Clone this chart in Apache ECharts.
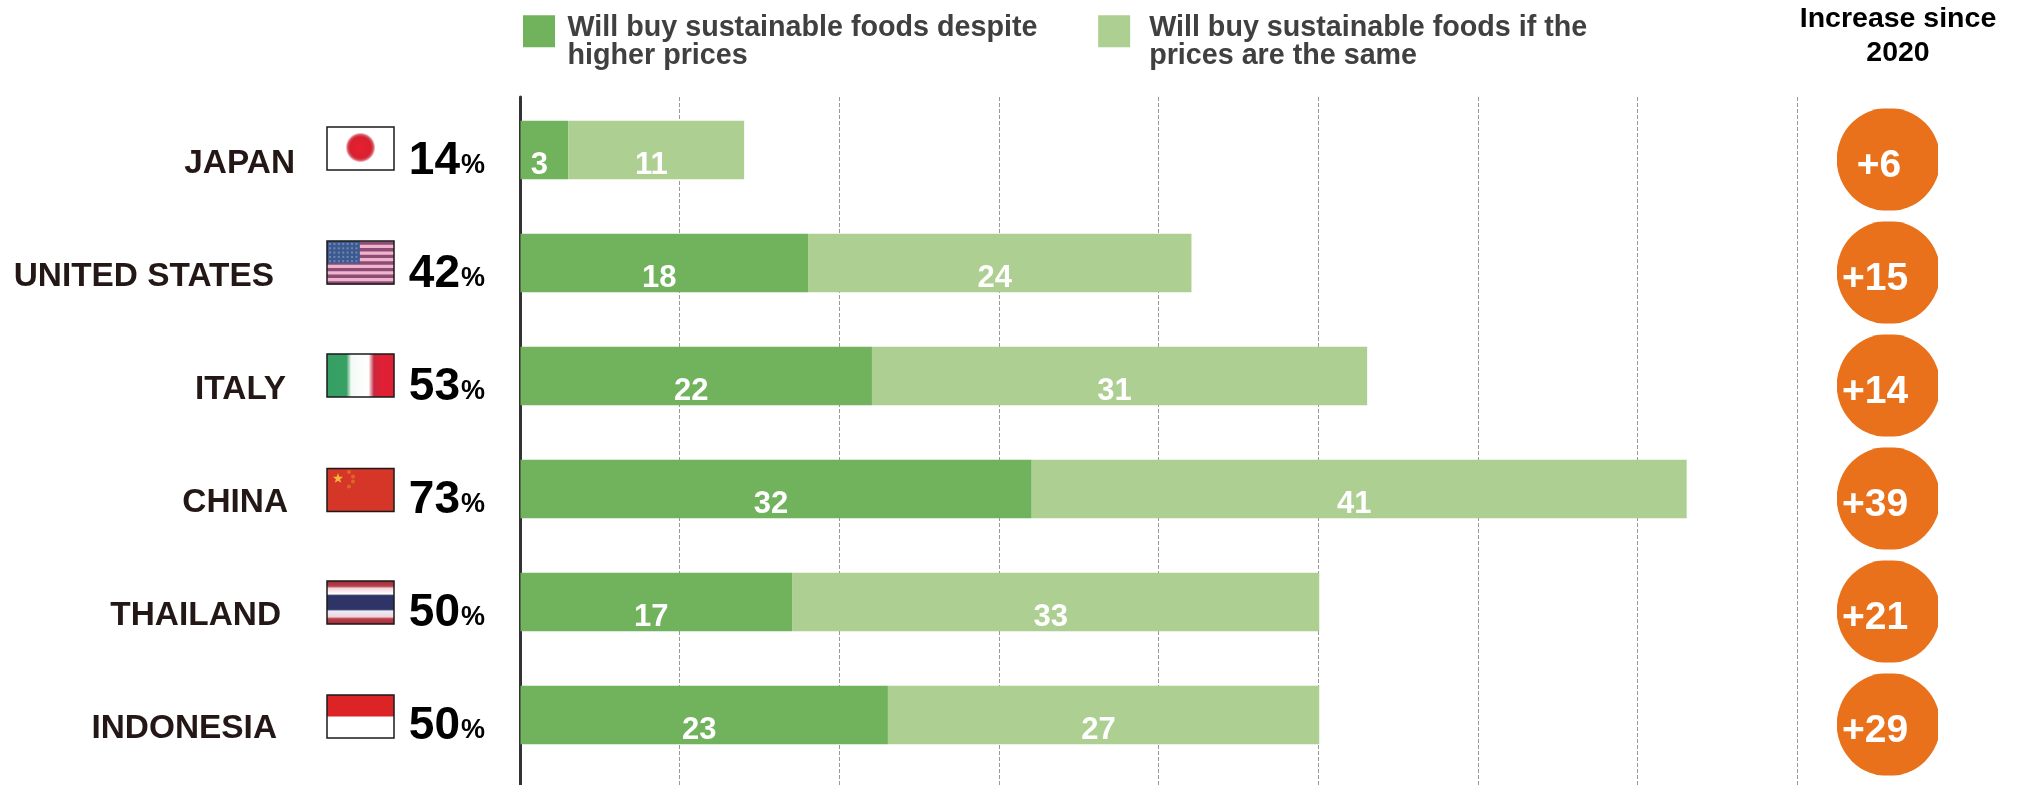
<!DOCTYPE html>
<html>
<head>
<meta charset="utf-8">
<title>Sustainable food purchase intent</title>
<style>html,body{margin:0;padding:0;background:#fff}#chart{width:2017px;height:785px}</style>
<script src="https://cdn.jsdelivr.net/npm/echarts@6/dist/echarts.min.js"></script>
</head>
<body>
<div id="chart"></div>
<script>
// Survey values, percent of respondents
const countries = ['JAPAN', 'UNITED STATES', 'ITALY', 'CHINA', 'THAILAND', 'INDONESIA'];
const despiteHigherPrices = [3, 18, 22, 32, 17, 23];
const ifPricesSame = [11, 24, 31, 41, 33, 27];
const totals = [14, 42, 53, 73, 50, 50];
const increaseSince2020 = [6, 15, 14, 39, 21, 29];
const legendNames = [
  'Will buy sustainable foods despite\nhigher prices',
  'Will buy sustainable foods if the\nprices are the same'
];
const increaseTitle = 'Increase since\n2020';

// Row layout helpers for the left-hand labels (pixels)
const nameRightEdge = [295, 274, 286, 288, 281, 277];
const flagShift = [-1.5, -0.5, -0.5, 1, 0.5, 1.5];

const FONT = '"Liberation Sans", Arial, sans-serif';
const DARK = '#71B25C';
const LIGHT = '#ADCF91';
const ORANGE = '#E9711C';
const FLAG_X = 327, FLAG_W = 67, FLAG_H = 43;

const band = (x, y, w, h, fill) => ({ type: 'rect', shape: { x, y, width: w, height: h }, style: { fill } });
const stops = list => list.map(s => ({ offset: s[0], color: s[1] }));
const across = list => ({ type: 'linear', x: 0, y: 0, x2: 1, y2: 0, colorStops: stops(list) });
const down = list => ({ type: 'linear', x: 0, y: 0, x2: 0, y2: 1, colorStops: stops(list) });

// Small low-resolution style flags, each painted into a box at (x, y)
const flagPainters = {
  JAPAN(x, y, w, h) {
    return [
      band(x, y, w, h, '#FFFFFF'),
      {
        type: 'circle',
        shape: { cx: x + w / 2, cy: y + h / 2 - 1, r: 15 },
        style: {
          fill: {
            type: 'radial', x: 0.5, y: 0.5, r: 0.5,
            colorStops: stops([[0, '#E8202F'], [0.72, '#D8202F'], [0.86, '#D85A66'], [1, '#FFFFFF']])
          }
        }
      }
    ];
  },
  'UNITED STATES'(x, y, w, h) {
    const parts = [band(x, y, w, h, '#EFB4CE')];
    for (let i = 0; i < 7; i++) {
      parts.push(band(x, y + i * h * 2 / 13 + 0.5, w, h / 13, '#8E4C74'));
    }
    parts.push(band(x, y, w * 0.49, h * 0.52, '#3C5A8E'));
    for (let r = 0; r < 5; r++) {
      for (let c = 0; c < 7; c++) {
        parts.push(band(x + 2 + c * 4.4, y + 2 + r * 4.3, 2, 2, '#6F86B5'));
      }
    }
    return parts;
  },
  ITALY(x, y, w, h) {
    return [
      band(x, y, w, h, across([
        [0, '#35A065'], [0.29, '#38A063'], [0.36, '#F4FAF6'], [0.62, '#FFFFFF'],
        [0.7, '#C6283F'], [0.8, '#DF2035'], [1, '#E02034']
      ]))
    ];
  },
  CHINA(x, y, w, h) {
    const parts = [band(x, y, w, h, '#D53628')];
    parts.push({
      type: 'polygon',
      shape: { points: [0, 1, 2, 3, 4, 5, 6, 7, 8, 9].map(i => {
        const r = i % 2 ? 2.2 : 5.4, a = -Math.PI / 2 + i * Math.PI / 5;
        return [x + 11 + r * Math.cos(a), y + 10 + r * Math.sin(a)];
      }) },
      style: { fill: '#F2B83A' }
    });
    [[22, 3.5], [26, 8], [26, 13], [22, 18]].forEach(p => {
      parts.push({ type: 'circle', shape: { cx: x + p[0], cy: y + p[1], r: 2 }, style: { fill: '#E0652A' } });
    });
    return parts;
  },
  THAILAND(x, y, w, h) {
    return [
      band(x, y, w, h, down([
        [0, '#A32C38'], [0.12, '#B5404C'], [0.17, '#F3D5DC'], [0.3, '#FFFFFF'],
        [0.34, '#2F3467'], [0.66, '#2F3467'], [0.7, '#E8EEF7'], [0.83, '#F3D5DC'],
        [0.88, '#B5404C'], [1, '#A32C38']
      ]))
    ];
  },
  INDONESIA(x, y, w, h) {
    return [band(x, y, w, h, '#FFFFFF'), band(x, y, w, h / 2, '#DC2326')];
  }
};

// Country name, flag and big total on each row
function renderRowLabel(params, api) {
  const i = params.dataIndex;
  const name = countries[i];
  const cy = api.coord([0, name])[1];
  const top = cy - FLAG_H / 2 + flagShift[i];
  return {
    type: 'group',
    children: [
      {
        type: 'text',
        style: {
          x: nameRightEdge[i], y: cy + 13.5, text: name, fill: '#231815',
          font: 'bold 33.4px ' + FONT, align: 'right', verticalAlign: 'middle'
        }
      },
      ...flagPainters[name](FLAG_X, top, FLAG_W, FLAG_H),
      {
        type: 'rect',
        shape: { x: FLAG_X, y: top, width: FLAG_W, height: FLAG_H },
        style: { fill: 'none', stroke: '#1a1a1a', lineWidth: 1.5 }
      },
      {
        type: 'text',
        style: {
          x: 460, y: cy + 11.5, text: String(api.value(0)), fill: '#000',
          font: 'bold 46px ' + FONT, align: 'right', verticalAlign: 'middle'
        }
      },
      {
        type: 'text',
        style: {
          x: 485, y: cy + 15.5, text: '%', fill: '#000',
          font: 'bold 27px ' + FONT, align: 'right', verticalAlign: 'middle'
        }
      }
    ]
  };
}

// Orange badge with the change since 2020; the disc is trimmed by its square box
function renderIncrease(params, api) {
  const cy = api.coord([0, api.value(1)])[1] + 9.5;
  const cx = 1888.5;
  const v = api.value(0);
  return {
    type: 'group',
    children: [
      {
        type: 'circle',
        shape: { cx, cy, r: 51.8 },
        style: { fill: ORANGE },
        clipPath: { type: 'rect', shape: { x: 1837, y: cy - 51, width: 101, height: 102 } }
      },
      {
        type: 'text',
        style: {
          x: v < 10 ? 1879 : 1875, y: cy + 7, text: '+' + v, fill: '#fff',
          font: 'bold 39px ' + FONT, align: 'center', verticalAlign: 'middle'
        }
      }
    ]
  };
}

const valueLabel = {
  show: true,
  position: 'inside',
  offset: [-5, 15],
  color: '#fff',
  fontFamily: FONT,
  fontWeight: 'bold',
  fontSize: 31
};

const legendLine = {
  color: '#404040',
  fontFamily: FONT,
  fontWeight: 'bold',
  fontSize: 28.7,
  lineHeight: 28,
  height: 28,
  padding: [0, 0, 0, 7.5]
};

const chart = echarts.init(document.getElementById('chart'), null, { renderer: 'canvas' });
chart.setOption({
  animation: false,
  backgroundColor: '#fff',
  textStyle: { fontFamily: FONT },
  legend: {
    left: 523,
    top: -8,
    padding: 0,
    itemWidth: 32,
    itemHeight: 32,
    itemGap: 60.7,
    icon: 'rect',
    selectedMode: false,
    data: legendNames,
    // A spacer line drops the two text lines below the swatch centre
    formatter: name => {
      const tag = name === legendNames[0] ? 't' : 'u';
      return '{s| }\n' + name.split('\n').map(l => '{' + tag + '|' + l + '}').join('\n');
    },
    textStyle: {
      color: '#404040',
      rich: {
        s: { height: 22.5, lineHeight: 22.5, fontSize: 10 },
        t: legendLine,
        u: Object.assign({}, legendLine, { padding: [0, 0, 0, 14] })
      }
    }
  },
  title: {
    text: increaseTitle,
    left: 1898,
    top: 2.5,
    textAlign: 'center',
    padding: 0,
    textStyle: { color: '#000', fontFamily: FONT, fontWeight: 'bold', fontSize: 28.5, lineHeight: 34 }
  },
  grid: [
    // Reference lines run the full chart height
    { left: 520, width: 1277, top: 97, height: 688 },
    // Bars sit in their own evenly spaced rows
    { left: 520.5, width: 1278, top: 93.5, height: 678 }
  ],
  xAxis: [
    {
      gridIndex: 0, type: 'value', min: 0, max: 80, interval: 10,
      axisLine: { show: false }, axisTick: { show: false }, axisLabel: { show: false },
      splitLine: { show: true, showMinLine: false, lineStyle: { color: '#999', width: 1, type: [4, 2] } }
    },
    {
      gridIndex: 1, type: 'value', min: 0, max: 80, interval: 10,
      axisLine: { show: false }, axisTick: { show: false }, axisLabel: { show: false }, splitLine: { show: false }
    }
  ],
  yAxis: [
    {
      gridIndex: 0, type: 'value', min: 0, max: 1,
      axisLine: { show: true, lineStyle: { color: '#333', width: 3 } },
      axisTick: { show: false }, axisLabel: { show: false }, splitLine: { show: false }
    },
    {
      gridIndex: 1, type: 'category', inverse: true, data: countries,
      axisLine: { show: false }, axisTick: { show: false }, axisLabel: { show: false }, splitLine: { show: false }
    }
  ],
  series: [
    {
      name: legendNames[0], type: 'bar', stack: 'share', xAxisIndex: 1, yAxisIndex: 1,
      barWidth: 58.5, data: despiteHigherPrices, itemStyle: { color: DARK }, label: valueLabel
    },
    {
      name: legendNames[1], type: 'bar', stack: 'share', xAxisIndex: 1, yAxisIndex: 1,
      barWidth: 58.5, data: ifPricesSame, itemStyle: { color: LIGHT }, label: valueLabel
    },
    {
      name: 'Total', type: 'custom', xAxisIndex: 1, yAxisIndex: 1, clip: false,
      renderItem: renderRowLabel,
      data: totals.map((t, i) => [t, countries[i]]),
      encode: { x: 0, y: 1 }, silent: true
    },
    {
      name: 'Increase since 2020', type: 'custom', xAxisIndex: 1, yAxisIndex: 1, clip: false,
      renderItem: renderIncrease,
      data: increaseSince2020.map((v, i) => [v, countries[i]]),
      encode: { x: 0, y: 1 }, silent: true
    }
  ]
});
</script>
</body>
</html>
